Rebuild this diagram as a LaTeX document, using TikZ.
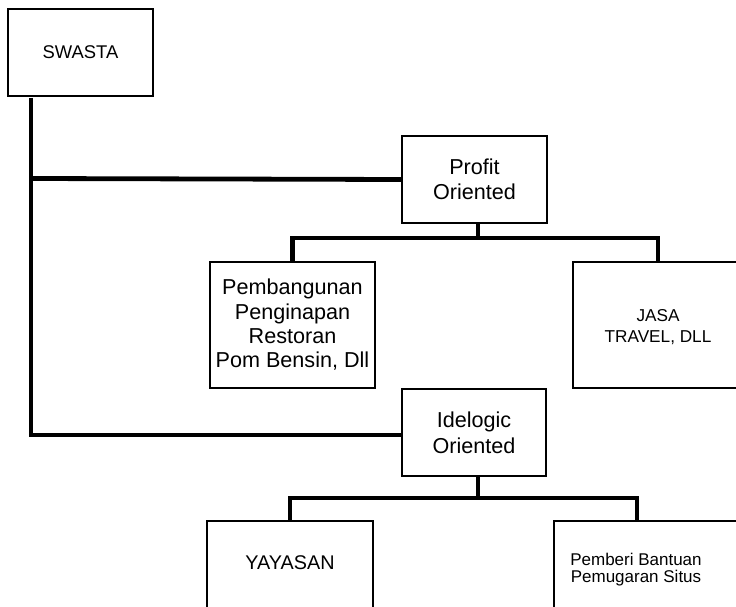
\documentclass[tikz,border=0pt]{standalone}
\usepackage{fontspec}
\setmainfont{Liberation Sans}
\begin{document}
\begin{tikzpicture}[x=1pt,y=-1pt,
  box/.style={draw,line width=2pt,rectangle,inner sep=0pt,align=center},
  lbl/.style={inner sep=0pt,align=center},
  conn/.style={line width=4.8pt}]
\useasboundingbox (0,0) rectangle (736,607);
\clip (0,0) rectangle (736,607);
% boxes
\node[box,minimum width=145,minimum height=87,font=\fontsize{18.4}{22}\selectfont] (swasta) at (80.5,52.5) {SWASTA};
\node[box,minimum width=145,minimum height=87,font=\fontsize{21.6}{25}\selectfont] (profit) at (474.5,179.5) {Profit\\Oriented};
\node[box,minimum width=165,minimum height=126,font=\fontsize{21.6}{24.3}\selectfont] (pemb) at (292.5,325) {Pembangunan\\Penginapan\\Restoran\\Pom Bensin, Dll};
\node[box,minimum width=170,minimum height=126] (jasa) at (658,325) {};
\node[lbl,font=\fontsize{17.2}{21}\selectfont] (jasatext) at (658,327) {JASA\\TRAVEL, DLL};
\node[box,minimum width=144,minimum height=87,font=\fontsize{21.6}{26}\selectfont] (idel) at (474,432.5) {Idelogic\\Oriented};
\node[box,minimum width=166,minimum height=139] (yay) at (290,590.5) {};
\node[lbl,font=\fontsize{19.8}{24}\selectfont] (yaytext) at (290,563) {YAYASAN};
\node[box,minimum width=216,minimum height=139] (pemberi) at (662,590.5) {};
\node[lbl,font=\fontsize{17}{16.5}\selectfont] (pembertext) at (636,569.5) {Pemberi Bantuan\\Pemugaran Situs};
% connectors
\coordinate (t0) at (31,98);
\coordinate (t1) at (31,178.5);
\draw[conn] (t0) |- ([yshift=-2.5]idel.west);
\draw[conn] (t1) -- (profit.west);
\coordinate (pb) at (478,238);
\draw[conn] (profit.south -| pb) -- (pb);
\draw[conn] (pemb.north) |- (pb) -| (jasa.north);
\coordinate (ib) at (478,498);
\coordinate (px) at (637,0);
\draw[conn] (idel.south -| ib) -- (ib);
\draw[conn] (yay.north) |- (ib) -| (pemberi.north -| px);
\end{tikzpicture}
\end{document}
